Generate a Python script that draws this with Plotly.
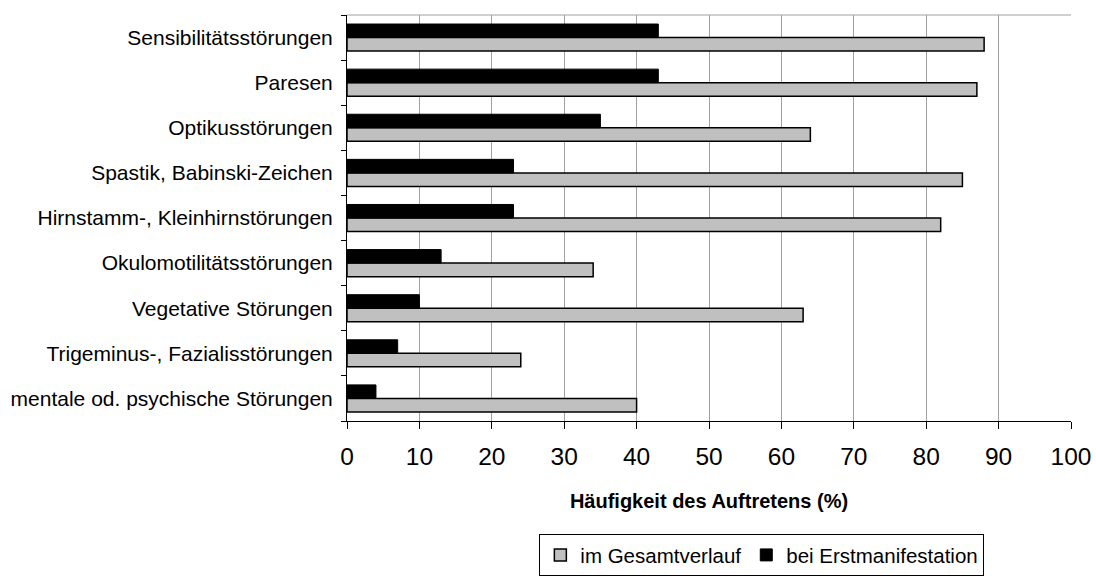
import plotly.graph_objects as go

# Symptom categories, listed bottom to top as they appear on the axis
categories = [
    "mentale od. psychische Störungen",
    "Trigeminus-, Fazialisstörungen",
    "Vegetative Störungen",
    "Okulomotilitätsstörungen",
    "Hirnstamm-, Kleinhirnstörungen",
    "Spastik, Babinski-Zeichen",
    "Optikusstörungen",
    "Paresen",
    "Sensibilitätsstörungen",
]

# Frequency (%) over the whole course of the disease
gesamtverlauf = [40, 24, 63, 34, 82, 85, 64, 87, 88]
# Frequency (%) at first manifestation
erstmanifestation = [4, 7, 10, 13, 23, 23, 35, 43, 43]

x_ticks = [0, 10, 20, 30, 40, 50, 60, 70, 80, 90, 100]

FONT = "Liberation Sans, Arial, sans-serif"

fig = go.Figure()
fig.add_trace(go.Bar(
    y=categories, x=gesamtverlauf, orientation="h",
    name="im Gesamtverlauf",
    marker=dict(color="#c0c0c0", line=dict(color="#000000", width=1.5)),
))
fig.add_trace(go.Bar(
    y=categories, x=erstmanifestation, orientation="h",
    name="bei Erstmanifestation",
    marker=dict(color="#000000", line=dict(color="#000000", width=1)),
))

fig.update_layout(
    width=1096, height=577,
    margin=dict(l=347, r=25, t=15, b=156),
    paper_bgcolor="white", plot_bgcolor="white",
    barmode="group", bargap=0.40, bargroupgap=0,
    font=dict(family=FONT, color="#000000"),
    showlegend=True,
    legend=dict(
        orientation="h",
        x=0.573, xanchor="center",
        yref="container", y=0.038, yanchor="middle",
        font=dict(size=20.5, family=FONT),
        bordercolor="#000000", borderwidth=1,
        bgcolor="white",
        itemwidth=30,
        traceorder="normal",
    ),
    shapes=[
        dict(type="line", xref="paper", yref="paper", x0=0, x1=1, y0=1, y1=1,
             line=dict(color="#a0a0a0", width=1), layer="below"),
    ],
)

fig.update_xaxes(
    range=[0, 100],
    automargin=False,
    tickvals=x_ticks,
    ticktext=[str(v) for v in x_ticks],
    tickfont=dict(size=24.5, family=FONT),
    ticks="outside", ticklen=7, tickcolor="#000000", tickwidth=1,
    ticklabelstandoff=7,
    showgrid=True, gridcolor="#a0a0a0", gridwidth=1,
    showline=True, linecolor="#000000", linewidth=1,
    zeroline=False,
    title=dict(text="<b>Häufigkeit des Auftretens (%)</b>",
               font=dict(size=20, family=FONT), standoff=24),
)

fig.update_yaxes(
    type="category",
    automargin=False,
    categoryorder="array", categoryarray=categories,
    tickfont=dict(size=21, family=FONT),
    ticks="outside", ticklen=5, tickcolor="#000000", tickwidth=1,
    tickson="boundaries",
    ticklabelstandoff=9,
    showgrid=False,
    showline=True, linecolor="#000000", linewidth=1,
    zeroline=False,
)

fig.write_html("out.html")
